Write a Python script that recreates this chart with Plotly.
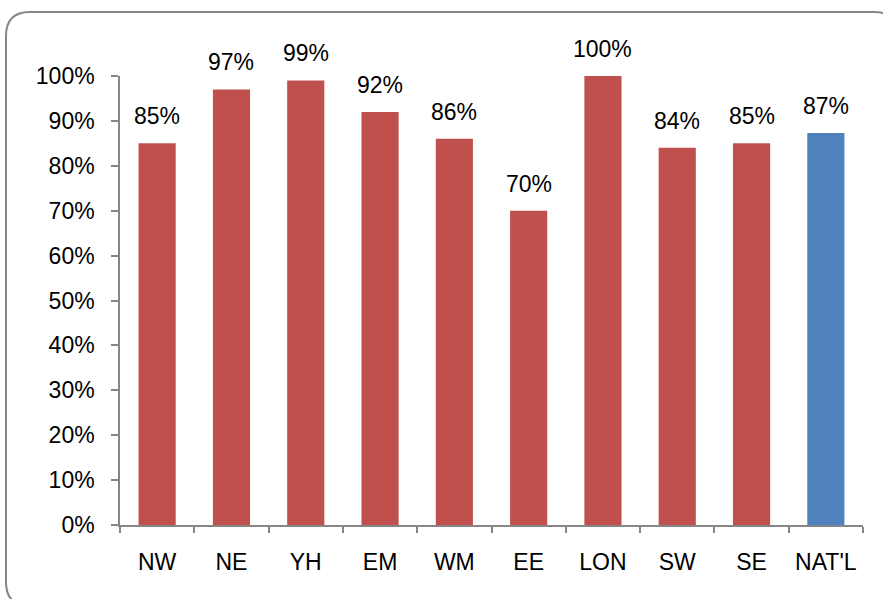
import plotly.graph_objects as go

categories = ["NW", "NE", "YH", "EM", "WM", "EE", "LON", "SW", "SE", "NAT'L"]
values = [0.85, 0.97, 0.99, 0.92, 0.86, 0.70, 1.00, 0.84, 0.85, 0.873]
labels = ["85%", "97%", "99%", "92%", "86%", "70%", "100%", "84%", "85%", "87%"]
colors = ["#C0504D"] * 9 + ["#4F81BD"]
y_ticks = [0, 0.1, 0.2, 0.3, 0.4, 0.5, 0.6, 0.7, 0.8, 0.9, 1.0]

W, H = 883, 599
ML, MR, MT, MB = 120, 20, 76, 74
pw, ph = W - ML - MR, H - MT - MB

def px(x):
    return (x - ML) / pw

def py(y):
    return (H - MB - y) / ph

FONT = "Liberation Sans, Arial, sans-serif"
FS = 23

fig = go.Figure(go.Bar(
    x=categories, y=values, marker_color=colors, width=0.5,
    marker_line_width=0,
))

for c, v, t in zip(categories, values, labels):
    fig.add_annotation(x=c, y=v, text=t, showarrow=False, yanchor="bottom",
                       yshift=12, font=dict(size=FS, color="#000000", family=FONT))

# rounded frame (partly beyond the picture edge, as in the reference)
l, r, t, b, rad = 6, 898, 12, 606, 24
path = (f"M {px(l+rad)},{py(t)} L {px(r-rad)},{py(t)} Q {px(r)},{py(t)} {px(r)},{py(t+rad)} "
        f"L {px(r)},{py(b-rad)} Q {px(r)},{py(b)} {px(r-rad)},{py(b)} "
        f"L {px(l+rad)},{py(b)} Q {px(l)},{py(b)} {px(l)},{py(b-rad)} "
        f"L {px(l)},{py(t+rad)} Q {px(l)},{py(t)} {px(l+rad)},{py(t)} Z")
fig.add_shape(type="path", xref="paper", yref="paper", path=path,
              line=dict(color="#868686", width=2), layer="below")

fig.update_layout(
    width=W, height=H,
    margin=dict(l=ML, r=MR, t=MT, b=MB),
    plot_bgcolor="white", paper_bgcolor="white",
    showlegend=False,
    font=dict(family=FONT, size=FS, color="#000000"),
    bargap=0.5,
)
fig.update_xaxes(
    showline=True, linecolor="#868686", linewidth=1.5,
    ticks="outside", tickson="boundaries", ticklen=6, tickcolor="#868686", tickwidth=1.5,
    ticklabelstandoff=16, showgrid=False, tickfont=dict(size=FS),
)
fig.update_yaxes(
    range=[0, 1.0], tickvals=y_ticks, tickformat=".0%",
    showline=True, linecolor="#868686", linewidth=1.5,
    ticks="outside", ticklen=7, tickcolor="#868686", tickwidth=1.5,
    ticklabelstandoff=12, showgrid=False, zeroline=False, tickfont=dict(size=FS),
)

fig.write_html("out.html", config={"displayModeBar": False},
               post_script="document.body.style.margin='0';document.body.style.overflow='hidden';")
